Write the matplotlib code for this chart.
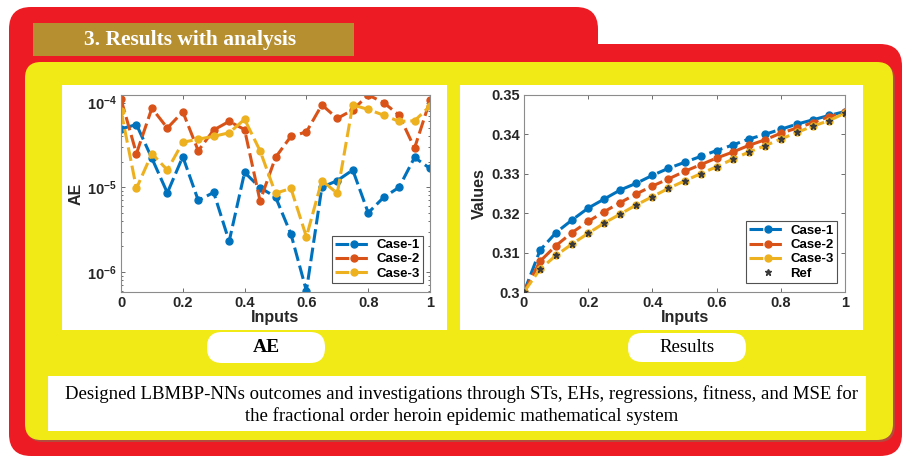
import numpy as np
import matplotlib
matplotlib.use("Agg")
import matplotlib.pyplot as plt
from matplotlib.patches import FancyBboxPatch, Rectangle

# ---- data ----
inputs = [0, 0.05, 0.1, 0.15, 0.2, 0.25, 0.3, 0.35, 0.4, 0.45, 0.5,
          0.55, 0.6, 0.65, 0.7, 0.75, 0.8, 0.85, 0.9, 0.95, 1.0]

ae_case1 = [4.9e-5, 5.5e-5, 2.2e-5, 8.6e-6, 2.3e-5, 7.0e-6, 8.7e-6, 2.3e-6, 1.5e-5, 9.9e-6, 7.7e-6,
            2.8e-6, 6.0e-7, 1.0e-5, 1.2e-5, 1.6e-5, 5.0e-6, 7.6e-6, 1.0e-5, 2.25e-5, 1.67e-5]
ae_case2 = [1.1e-4, 2.5e-5, 8.6e-5, 5.0e-5, 7.8e-5, 2.7e-5, 4.75e-5, 6.0e-5, 4.8e-5, 6.9e-6, 2.25e-5,
            4.0e-5, 4.5e-5, 9.4e-5, 6.5e-5, 8.2e-5, 1.23e-4, 1.0e-4, 7.1e-5, 2.9e-5, 1.06e-4]
ae_case3 = [8.0e-5, 9.7e-6, 2.5e-5, 1.6e-5, 3.4e-5, 3.7e-5, 4.0e-5, 4.4e-5, 6.35e-5, 2.7e-5, 8.5e-6,
            9.7e-6, 2.6e-6, 1.2e-5, 8.5e-6, 9.4e-5, 8.3e-5, 7.1e-5, 6.0e-5, 6.1e-5, 9.1e-5]

res_case1 = [0.3, 0.3106, 0.3151, 0.3183, 0.3213, 0.3236, 0.3259, 0.3276, 0.3296, 0.3314, 0.3329,
             0.3344, 0.3359, 0.3373, 0.3388, 0.3400, 0.3413, 0.3426, 0.3437, 0.3448, 0.3458]
res_case2 = [0.3, 0.3078, 0.3118, 0.3151, 0.3179, 0.3204, 0.3227, 0.3249, 0.3269, 0.3287, 0.3306,
             0.3323, 0.3340, 0.3355, 0.3372, 0.3386, 0.3403, 0.3416, 0.3430, 0.3445, 0.3456]
res_case3 = [0.3, 0.3058, 0.3093, 0.3122, 0.3149, 0.3175, 0.3198, 0.3221, 0.3242, 0.3263, 0.3282,
             0.3300, 0.3318, 0.3337, 0.3355, 0.3371, 0.3388, 0.3405, 0.3421, 0.3435, 0.3454]
res_ref = [0.3, 0.3058, 0.3093, 0.3122, 0.3149, 0.3175, 0.3198, 0.3221, 0.3242, 0.3263, 0.3282,
           0.3300, 0.3318, 0.3337, 0.3355, 0.3371, 0.3388, 0.3405, 0.3421, 0.3435, 0.3454]

case_names = ["Case-1", "Case-2", "Case-3"]
res_yticks = [0.3, 0.31, 0.32, 0.33, 0.34, 0.35]
res_ylabels = ["0.3", "0.31", "0.32", "0.33", "0.34", "0.35"]
xticks = [0, 0.2, 0.4, 0.6, 0.8, 1]
xlabels = ["0", "0.2", "0.4", "0.6", "0.8", "1"]

header = "3. Results with analysis"
caption = ("Designed LBMBP-NNs outcomes and investigations through STs, EHs, regressions, fitness, and MSE for\n"
           "the fractional order heroin epidemic mathematical system")

colors = ["#0072BD", "#D95319", "#EDB120"]
RED = "#ED1C24"
YELLOW = "#F1EA17"
GOLD = "#B68F31"

plt.rcParams["font.family"] = ["Liberation Sans", "DejaVu Sans"]
plt.rcParams["mathtext.fontset"] = "custom"
plt.rcParams["mathtext.rm"] = "Liberation Sans:bold"

W, H = 904, 458
fig = plt.figure(figsize=(W / 100, H / 100), dpi=100)

# background drawn in pixel coordinates
bg = fig.add_axes([0, 0, 1, 1], zorder=0)
bg.set_xlim(0, W)
bg.set_ylim(H, 0)
bg.axis("off")

def rbox(x0, y0, x1, y1, r, **kw):
    p = FancyBboxPatch((x0, y0), x1 - x0, y1 - y0,
                       boxstyle=f"round,pad=0,rounding_size={r}", **kw)
    bg.add_patch(p)

# red frame: tab + body
rbox(9, 7, 598, 90, 22, fc=RED, ec="none")
rbox(9, 44, 902, 456, 22, fc=RED, ec="none")
# header box
bg.add_patch(Rectangle((33, 23), 321, 33, fc=GOLD, ec="none"))
bg.text(84, 40, header, color="white", fontsize=15.5, fontweight="bold",
        family="Liberation Serif", ha="left", va="center")
# yellow panel with a faint shadow
rbox(27, 64, 895, 442, 16, fc="#7a7a5a", ec="none", alpha=0.5)
rbox(25, 62, 893, 440, 16, fc=YELLOW, ec="none")
# white plot cards
bg.add_patch(Rectangle((62, 85), 385, 245, fc="white", ec="none"))
bg.add_patch(Rectangle((460, 85), 403, 245, fc="white", ec="none"))
# pills
rbox(207, 332, 325, 363, 15, fc="white", ec="none")
rbox(628, 333, 746, 362, 14, fc="white", ec="none")
bg.text(266, 348, "AE", family="Liberation Serif", fontweight="bold", fontsize=14,
        ha="center", va="center")
bg.text(687, 348, "Results", family="Liberation Serif", fontsize=13.5,
        ha="center", va="center")
# caption box
bg.add_patch(Rectangle((48, 376), 818, 55, fc="white", ec="none"))
bg.text(462, 405, caption, family="Liberation Serif", fontsize=13.5,
        ha="center", va="center", linespacing=1.3)

line_kw = dict(linestyle="--", marker="o", markersize=5, linewidth=2.2, dashes=(4.5, 1.6))
TXT = "#262626"

def style(ax):
    for s in ax.spines.values():
        s.set_color("#8c8c8c")
        s.set_linewidth(0.8)
    ax.tick_params(direction="in", top=True, right=True, length=3, width=0.6,
                   color="#555555", labelsize=10.5, pad=3)
    for lab in ax.get_xticklabels() + ax.get_yticklabels():
        lab.set_fontweight("bold")
        lab.set_color(TXT)
    ax.set_xlim(0, 1)
    ax.set_xticks(xticks)
    ax.set_xticklabels(xlabels, fontweight="bold", color=TXT)
    ax.set_xlabel("Inputs", fontsize=11.5, fontweight="bold", color=TXT, labelpad=0)

def legend(ax, anchor):
    leg = ax.legend(loc="lower right", bbox_to_anchor=anchor,
                    prop={"weight": "bold", "size": 9.5}, frameon=True, fancybox=False,
                    borderpad=0.25, labelspacing=0.15, handlelength=2.8, handletextpad=0.3,
                    borderaxespad=0)
    leg.get_frame().set_edgecolor(TXT)
    leg.get_frame().set_linewidth(0.8)
    return leg

# ---- AE chart ----
ax1 = fig.add_axes([121 / W, 1 - 292 / H, 309 / W, 197 / H], zorder=2)
for vals, c, n in zip([ae_case1, ae_case2, ae_case3], colors, case_names):
    ax1.plot(inputs, vals, color=c, label=n, **line_kw)
ax1.set_yscale("log")
ax1.set_ylim(5.8e-7, 1.23e-4)
ax1.set_yticks([1e-6, 1e-5, 1e-4])
ax1.tick_params(axis="y", which="minor", direction="in", right=True, length=1.5, width=0.4)
style(ax1)
ax1.set_ylabel("AE", fontsize=11.5, fontweight="bold", color=TXT, labelpad=2)
legend(ax1, (0.977, 0.046))

# ---- Results chart ----
ax2 = fig.add_axes([524 / W, 1 - 292 / H, 321 / W, 197 / H], zorder=2)
for vals, c, n in zip([res_case1, res_case2, res_case3], colors, case_names):
    ax2.plot(inputs, vals, color=c, label=n, **line_kw)
ax2.plot(inputs, res_ref, linestyle="none", marker="*", markersize=5,
         color="#3a3a3a", label="Ref", zorder=5)
ax2.set_ylim(0.3, 0.35)
ax2.set_yticks(res_yticks)
ax2.set_yticklabels(res_ylabels)
style(ax2)
ax2.set_ylabel("Values", fontsize=11.5, fontweight="bold", color=TXT, labelpad=3)
legend(ax2, (0.975, 0.046))

fig.savefig("out.png", dpi=100)
